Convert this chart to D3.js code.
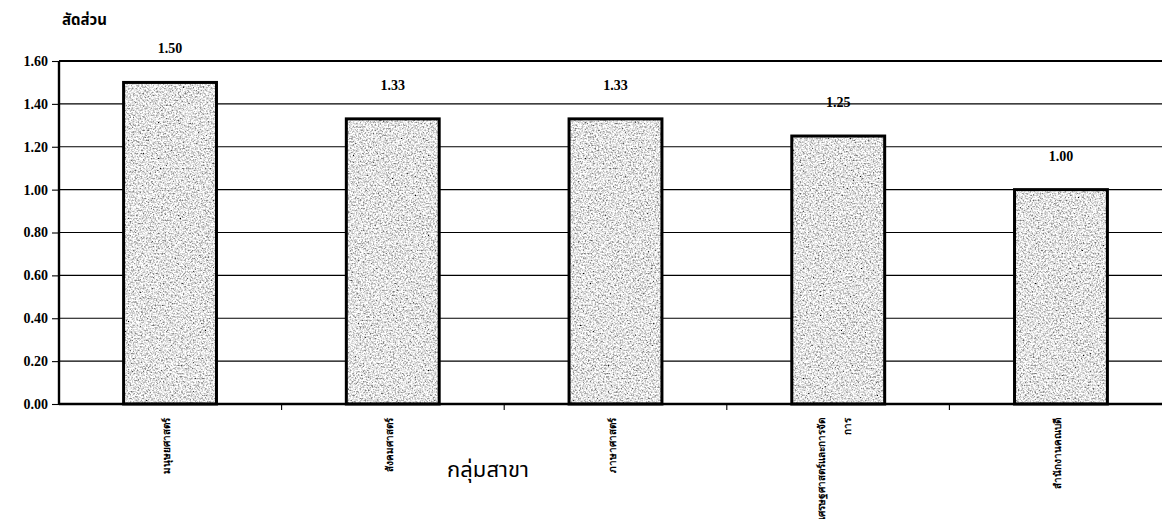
<!DOCTYPE html>
<html><head><meta charset="utf-8">
<script src="https://cdn.jsdelivr.net/npm/d3@7"></script>
<style>
html,body{margin:0;padding:0;background:#fff;overflow:hidden}
svg{display:block}
.serif{font-family:"Liberation Serif","Times New Roman",serif;font-weight:bold}
</style></head>
<body>
<svg id="chart" width="1162" height="519"></svg>
<script>
const categories = [
  ["มนุษยศาสตร์"],
  ["สังคมศาสตร์"],
  ["ภาษาศาสตร์"],
  ["เศรษฐศาสตร์และการจัด","การ"],
  ["สำนักงานคณบดี"]
];
const values = [1.50, 1.33, 1.33, 1.25, 1.00];
const valueLabels = ["1.50","1.33","1.33","1.25","1.00"];
const yTicks = [0,0.2,0.4,0.6,0.8,1.0,1.2,1.4,1.6];
const yTitle = "สัดส่วน";
const xTitle = "กลุ่มสาขา";

const svg = d3.select("#chart");
const x0 = 59, plotTop = 61, plotBottom = 404, rightEdge = 1162;
const y = d3.scaleLinear().domain([0,1.6]).range([plotBottom, plotTop]);
const x = d3.scaleBand().domain(d3.range(categories.length)).range([x0, x0 + 5*222.6]).paddingInner(0.583).paddingOuter(0.29);
const band = d3.scaleBand().domain(d3.range(categories.length)).range([x0, x0 + 5*222.6]);

const defs = svg.append("defs");
const f = defs.append("filter").attr("id","speckle").attr("x","0").attr("y","0").attr("width","1").attr("height","1");
f.append("feTurbulence").attr("type","fractalNoise").attr("baseFrequency","0.6").attr("numOctaves","3").attr("seed","7").attr("result","n");
f.append("feColorMatrix").attr("in","n").attr("type","matrix")
  .attr("values","2.0 0 0 0 -0.23  2.0 0 0 0 -0.23  2.0 0 0 0 -0.23  0 0 0 0 1").attr("result","g");
f.append("feComposite").attr("in","g").attr("in2","SourceGraphic").attr("operator","in");

// gridlines
svg.append("g").selectAll("line").data(yTicks.filter(d=>d>0)).join("line")
  .attr("x1", x0).attr("x2", rightEdge)
  .attr("y1", d=>y(d)).attr("y2", d=>y(d))
  .attr("stroke","#000").attr("stroke-width", d=>d===1.6?1.8:1.1);

// y axis
const yAxis = d3.axisLeft(y).tickValues(yTicks).tickFormat(d3.format(".2f")).tickSize(7).tickPadding(4);
const ya = svg.append("g").attr("transform",`translate(${x0},0)`).call(yAxis);
ya.select(".domain").remove();
ya.selectAll(".tick line").attr("stroke","#000").attr("stroke-width",1.1);
ya.selectAll(".tick text").attr("class","serif").attr("font-size",14).attr("fill","#000");
svg.append("line").attr("x1",x0).attr("x2",x0).attr("y1",plotTop).attr("y2",plotBottom+1).attr("stroke","#000").attr("stroke-width",2.4);

// bars
const bars = svg.append("g").selectAll("g").data(values).join("g");
bars.append("rect")
  .attr("x",(d,i)=>x(i)).attr("width",x.bandwidth())
  .attr("y",d=>y(d)).attr("height",d=>plotBottom-y(d))
  .attr("fill","#c4c4c4");
bars.append("rect")
  .attr("x",(d,i)=>x(i)).attr("width",x.bandwidth())
  .attr("y",d=>y(d)).attr("height",d=>plotBottom-y(d))
  .attr("fill","#fff").attr("filter","url(#speckle)");
bars.append("rect")
  .attr("x",(d,i)=>x(i)).attr("width",x.bandwidth())
  .attr("y",d=>y(d)).attr("height",d=>plotBottom-y(d))
  .attr("fill","none").attr("stroke","#000").attr("stroke-width",3);

// value labels
svg.append("g").selectAll("text").data(values).join("text")
  .attr("class","serif").attr("font-size",14).attr("text-anchor","middle")
  .attr("x",(d,i)=>x(i)+x.bandwidth()/2).attr("y",d=>y(d)-29)
  .text((d,i)=>valueLabels[i]);

// x axis
svg.append("line").attr("x1",x0).attr("x2",rightEdge).attr("y1",plotBottom).attr("y2",plotBottom).attr("stroke","#000").attr("stroke-width",2.4);
svg.append("g").selectAll("line").data(d3.range(1,categories.length+1)).join("line")
  .attr("x1",i=>band(i-1)+band.bandwidth()).attr("x2",i=>band(i-1)+band.bandwidth())
  .attr("y1",plotBottom).attr("y2",plotBottom+6).attr("stroke","#000").attr("stroke-width",1.1);

// category labels (rotated)
const cl = svg.append("g").selectAll("g").data(categories).join("g")
  .attr("transform",(d,i)=>`translate(${x(i)+x.bandwidth()/2 - 4},418) rotate(-90)`);
cl.each(function(lines){
  const g = d3.select(this);
  const n = lines.length, lh = 26;
  lines.forEach((t,k)=>{
    g.append("text").attr("class","serif").attr("font-size",10).attr("text-anchor","end")
      .attr("x",0).attr("y",(k-(n-1)/2)*lh + 4).text(t);
  });
});

// titles
svg.append("text").attr("x",62).attr("y",25).attr("font-size",15).attr("font-weight","bold")
  .attr("font-family","'Noto Sans Thai','Loma','Garuda','Noto Sans',sans-serif").text(yTitle);
svg.append("text").attr("x",488).attr("y",477).attr("font-size",22).attr("text-anchor","middle")
  .attr("font-family","'Noto Sans Thai','Loma','Garuda','Noto Sans',sans-serif").text(xTitle);
</script>
</body></html>
